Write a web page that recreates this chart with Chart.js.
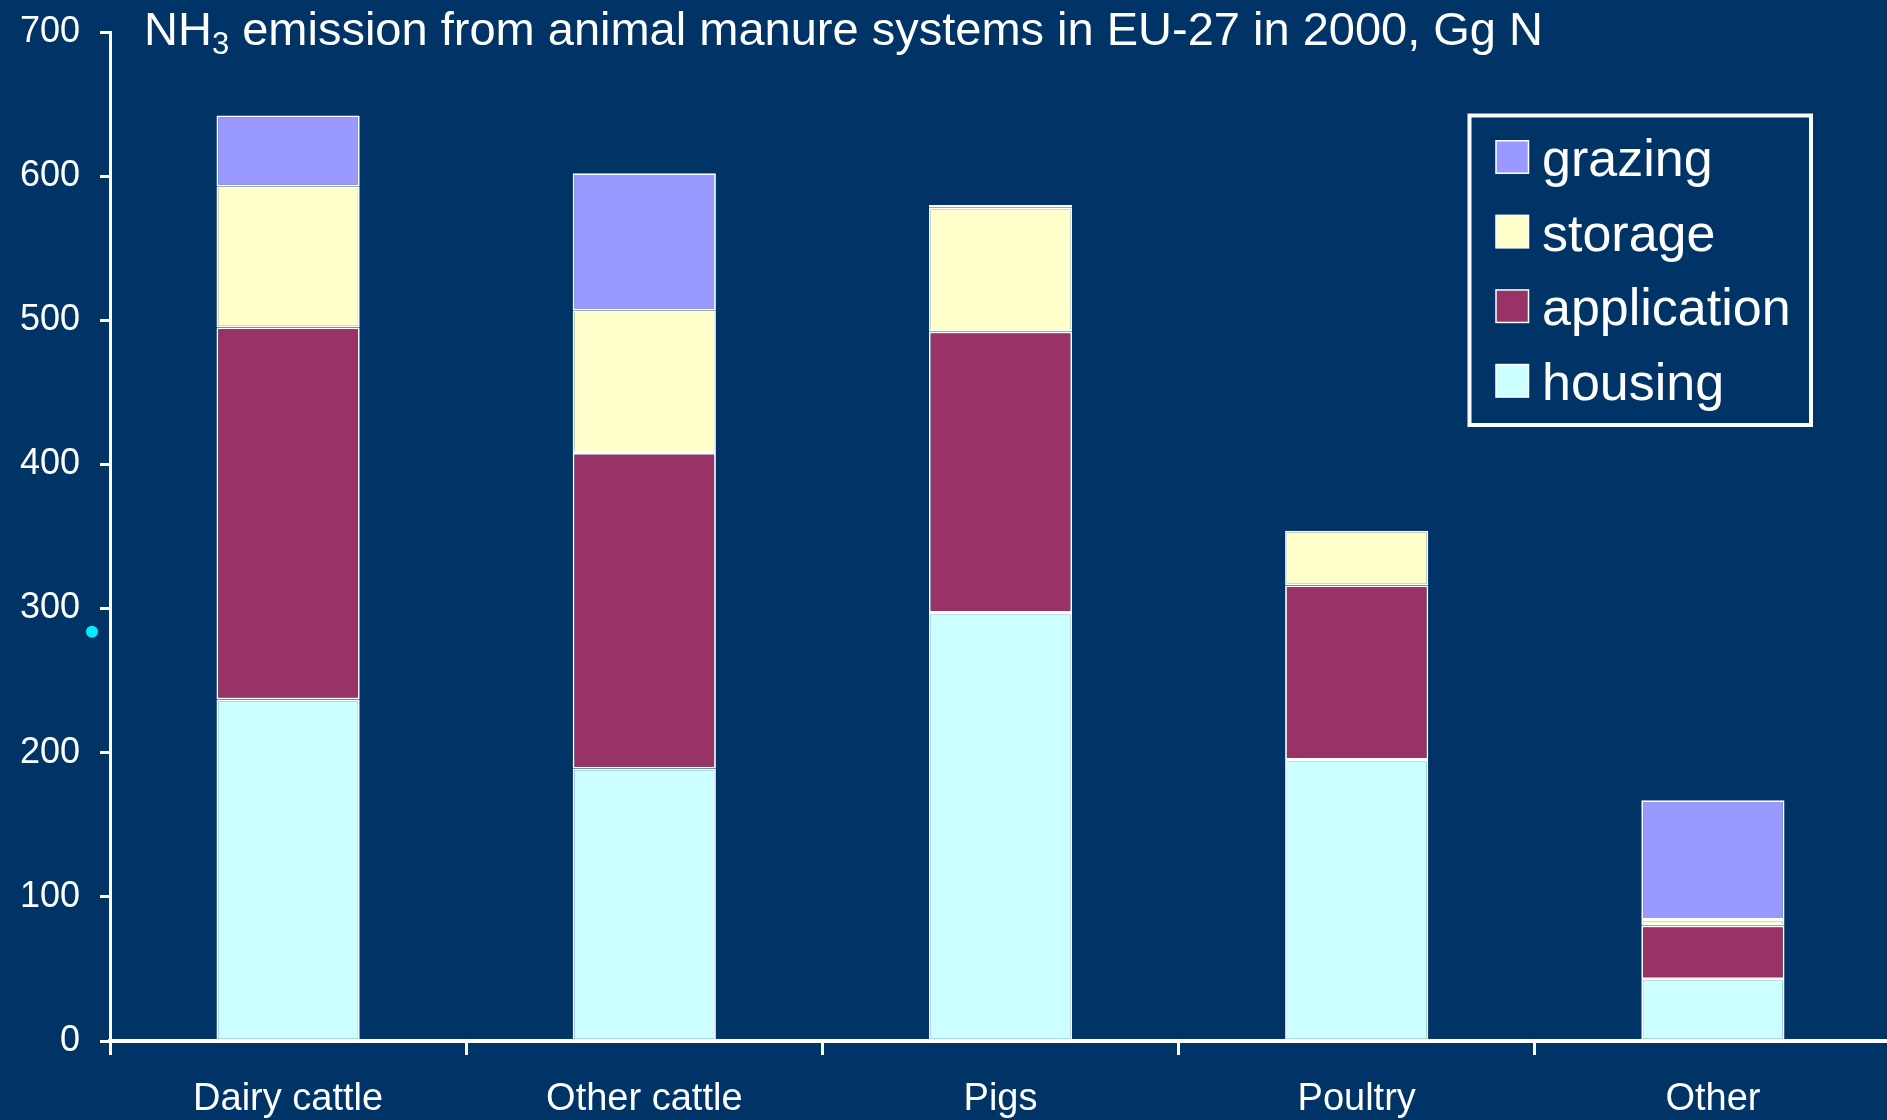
<!DOCTYPE html>
<html><head><meta charset="utf-8">
<script src="https://cdn.jsdelivr.net/npm/chart.js@4.4.0/dist/chart.umd.min.js"></script>
<style>html,body{margin:0;padding:0;background:#003366;overflow:hidden}#wrap{width:1887px;height:1120px;position:relative}</style>
</head><body><div id="wrap"><canvas id="c" width="1887" height="1120"></canvas></div>
<script>
// ---- data ----
const categories = ['Dairy cattle', 'Other cattle', 'Pigs', 'Poultry', 'Other'];
const housing     = [237, 189, 297, 195, 43];
const application = [258, 219, 195, 121, 37];
const storage     = [98, 99, 86, 38, 4];
const grazing     = [49, 95, 2, 0, 83];
const seriesNames = ['housing', 'application', 'storage', 'grazing'];
const yTickValues = [0, 100, 200, 300, 400, 500, 600, 700];
const titleMain = 'NH';
const titleSub = '3';
const titleRest = ' emission from animal manure systems in EU-27 in 2000, Gg N';
const strayMarkValue = 284;

// ---- styles ----
const FONT = '"Liberation Sans", Arial, sans-serif';
const colors = { housing: '#CCFFFF', application: '#993366', storage: '#FFFFCC', grazing: '#9999FF' };
const seriesData = { housing, application, storage, grazing };

const datasets = seriesNames.map(n => ({
  label: n,
  data: seriesData[n],
  backgroundColor: colors[n],
  borderColor: '#FFFFFF',
  borderWidth: 1.8,
  borderSkipped: false,
  barPercentage: 0.402,
  categoryPercentage: 1.0
}));

const extendRightPlugin = {
  id: 'extendRight',
  afterLayout(chart) {
    const extra = 4;
    const xs = chart.scales.x;
    chart.chartArea.right += extra;
    chart.chartArea.width = chart.chartArea.right - chart.chartArea.left;
    xs.right += extra;
    xs.width += extra;
    xs.configure();
  }
};

const titlePlugin = {
  id: 'titlePlugin',
  afterDraw(chart) {
    const ctx = chart.ctx;
    ctx.save();
    ctx.fillStyle = '#FFFFFF';
    ctx.textBaseline = 'alphabetic';
    ctx.textAlign = 'left';
    let x = 144, y = 45;
    ctx.font = '47px ' + FONT;
    ctx.fillText(titleMain, x, y);
    x += ctx.measureText(titleMain).width;
    ctx.font = '31px ' + FONT;
    ctx.fillText(titleSub, x, y + 9);
    x += ctx.measureText(titleSub).width;
    ctx.font = '47px ' + FONT;
    ctx.fillText(titleRest, x, y);
    ctx.restore();
  }
};

const legendPlugin = {
  id: 'customLegend',
  afterDraw(chart) {
    const ctx = chart.ctx;
    ctx.save();
    const bx = 1469.5, by = 115.5, bw = 341.5, bh = 309.5;
    ctx.lineWidth = 4;
    ctx.strokeStyle = '#FFFFFF';
    ctx.strokeRect(bx, by, bw, bh);
    const ds = chart.data.datasets.slice().reverse();
    ds.forEach((d, i) => {
      const cy = 157 + i * 74.6;
      ctx.fillStyle = d.backgroundColor;
      ctx.fillRect(1496, cy - 16.25, 32.5, 32.5);
      ctx.lineWidth = 1.5;
      ctx.strokeStyle = '#FFFFFF';
      ctx.strokeRect(1496, cy - 16.25, 32.5, 32.5);
      ctx.fillStyle = '#FFFFFF';
      ctx.font = '52px ' + FONT;
      ctx.textBaseline = 'alphabetic';
      ctx.fillText(d.label, 1542, cy + 19);
    });
    // stray cyan dot
    const ys = chart.scales.y;
    ctx.fillStyle = '#00EEFF';
    ctx.beginPath();
    ctx.arc(chart.chartArea.left - 18, ys.getPixelForValue(strayMarkValue), 6, 0, Math.PI * 2);
    ctx.fill();
    ctx.restore();
  }
};

const bgPlugin = {
  id: 'bg',
  beforeDraw(chart) {
    const ctx = chart.ctx;
    ctx.save();
    ctx.fillStyle = '#003366';
    ctx.fillRect(0, 0, chart.width, chart.height);
    ctx.restore();
  }
};

new Chart(document.getElementById('c'), {
  type: 'bar',
  data: { labels: categories, datasets },
  options: {
    responsive: false,
    animation: false,
    devicePixelRatio: 1,
    layout: { padding: { top: 32, right: 0, left: 0, bottom: 0 } },
    plugins: { legend: { display: false }, title: { display: false }, tooltip: { enabled: false } },
    scales: {
      x: {
        stacked: true,
        offset: true,
        grid: { display: true, drawOnChartArea: false, drawTicks: true, tickLength: 14, tickWidth: 3, tickColor: '#FFFFFF', offset: true },
        border: { display: true, color: '#FFFFFF', width: 4 },
        ticks: { color: '#FFFFFF', font: { family: FONT, size: 38 }, padding: 22, maxRotation: 0 },
        afterFit(s) { s.height = 79; }
      },
      y: {
        stacked: true,
        min: 0, max: 700,
        afterBuildTicks(s) { s.ticks = yTickValues.map(v => ({ value: v })); },
        grid: { display: true, drawOnChartArea: false, drawTicks: true, tickLength: 10, tickWidth: 3, tickColor: '#FFFFFF' },
        border: { display: true, color: '#FFFFFF', width: 3 },
        ticks: { color: '#FFFFFF', font: { family: FONT, size: 36 }, padding: 20 },
        afterFit(s) { s.width = 110; s.paddingTop = 0; s.paddingBottom = 0; }
      }
    }
  },
  plugins: [bgPlugin, extendRightPlugin, titlePlugin, legendPlugin]
});
</script>
</body></html>
